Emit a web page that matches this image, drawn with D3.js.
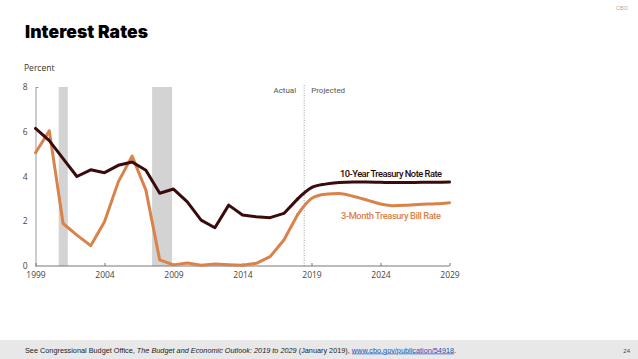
<!DOCTYPE html>
<html><head><meta charset="utf-8">
<script src="https://cdn.jsdelivr.net/npm/d3@7"></script>
<style>
body{margin:0;background:#fff;}
svg{display:block;}
</style></head>
<body>
<svg id="c" width="638" height="359"></svg>
<script>
const years = d3.range(1999, 2030);
const note10 = [6.15,5.6,4.8,4.0,4.3,4.17,4.5,4.65,4.28,3.25,3.44,2.87,2.05,1.71,2.72,2.28,2.2,2.16,2.35,3.0,3.5,3.66,3.73,3.75,3.75,3.74,3.73,3.73,3.74,3.74,3.75];
const bill3 = [5.06,6.04,1.9,1.38,0.91,1.98,3.76,4.91,3.39,0.27,0.05,0.13,0.03,0.09,0.06,0.03,0.12,0.42,1.16,2.3,3.02,3.21,3.24,3.12,2.95,2.77,2.69,2.72,2.76,2.78,2.83];
const recessions = [[2000.68, 2001.34], [2007.45, 2008.9]];
const splitYear = 2018.47;
const yTicks = [0,2,4,6,8];
const xTicks = [1999,2004,2009,2014,2019,2024,2029];

const svg = d3.select("#c");
const x = d3.scaleLinear().domain([1999, 2029]).range([35.5, 449.5]);
const y = d3.scaleLinear().domain([0, 8]).range([266, 87]);

// CBO top right
svg.append("text").attr("x",628).attr("y",10).attr("text-anchor","end")
  .attr("font-family","Liberation Sans, Arial").attr("font-size",5.5).attr("fill","#aaa").text("CBO");

// title
svg.append("text").attr("x",25).attr("y",38)
  .attr("font-family","Inter, Roboto, sans-serif").attr("font-weight",900)
  .attr("font-size",17.5).attr("fill","#000").attr("textLength",123).text("Interest Rates");

svg.append("text").attr("x",24).attr("y",71)
  .attr("font-family","Open Sans, sans-serif").attr("font-size",8.5).attr("fill","#333").text("Percent");

// recession bars
svg.selectAll("rect.rec").data(recessions).enter().append("rect")
  .attr("x", d=>x(d[0])).attr("width", d=>x(d[1])-x(d[0]))
  .attr("y", y(8)).attr("height", y(0)-y(8)).attr("fill","#d3d3d3");

// axes
const yAxis = svg.append("g").attr("transform","translate(35.5,0)")
  .call(d3.axisLeft(y).tickValues(yTicks).tickSize(0).tickPadding(8));
yAxis.select(".domain").attr("stroke","#999");
yAxis.selectAll("text").attr("font-family","Open Sans, sans-serif").attr("font-size",8.5).attr("fill","#444");
svg.append("line").attr("x1",35.5).attr("x2",38.5).attr("y1",y(8)+0.5).attr("y2",y(8)+0.5).attr("stroke","#999");

const xAxis = svg.append("g").attr("transform","translate(0,266)")
  .call(d3.axisBottom(x).tickValues(xTicks).tickFormat(d3.format("d")).tickSize(-3).tickPadding(6));
xAxis.select(".domain").attr("stroke","#777").attr("d","M35.5,0H449.5");
xAxis.selectAll(".tick line").attr("stroke","#777");
xAxis.selectAll("text").attr("font-family","Open Sans, sans-serif").attr("font-size",8.5).attr("fill","#444");

// actual / projected divider
svg.append("line").attr("x1",x(splitYear)).attr("x2",x(splitYear)).attr("y1",85).attr("y2",266)
  .attr("stroke","#888").attr("stroke-width",0.8).attr("stroke-dasharray","1,1.5");
svg.append("text").attr("x",x(splitYear)-8).attr("y",93).attr("text-anchor","end")
  .attr("font-family","Roboto, sans-serif").attr("font-size",8).attr("fill","#555").text("Actual");
svg.append("text").attr("x",x(splitYear)+7).attr("y",93)
  .attr("font-family","Roboto, sans-serif").attr("font-size",8).attr("fill","#555").text("Projected");

// lines
const lineL = d3.line().x(d=>x(d[0])).y(d=>y(d[1])).curve(d3.curveLinear);
const lineC = d3.line().x(d=>x(d[0])).y(d=>y(d[1])).curve(d3.curveMonotoneX);
function drawSeries(vals, color){
  const pts = years.map((yr,i)=>[yr, vals[i]]);
  const act = pts.filter(p=>p[0] <= 2018);
  const proj = pts.filter(p=>p[0] >= 2018);
  [[act,lineL],[proj,lineC]].forEach(([d,gen])=>{
    svg.append("path").attr("d", gen(d)).attr("fill","none").attr("stroke",color)
      .attr("stroke-width",3).attr("stroke-linejoin","round").attr("stroke-linecap","round");
  });
}
drawSeries(bill3, "#d9824a");
drawSeries(note10, "#3b0a0a");

svg.append("text").attr("x",340).attr("y",177)
  .attr("font-family","Roboto, sans-serif").attr("font-weight",500).attr("font-size",9.3).attr("fill","#2a0808")
  .attr("textLength",102).text("10-Year Treasury Note Rate");
svg.append("text").attr("x",341).attr("y",219)
  .attr("font-family","Roboto, sans-serif").attr("font-weight",500).attr("font-size",9.3).attr("fill","#d9824a")
  .attr("textLength",100).text("3-Month Treasury Bill Rate");

// footer
svg.append("rect").attr("x",0).attr("y",340).attr("width",638).attr("height",19).attr("fill","#e8e8e8");
const ft = svg.append("text").attr("x",25).attr("y",352.5)
  .attr("font-family","Liberation Sans, Arial").attr("font-size",7.3).attr("fill","#222");
ft.append("tspan").text("See Congressional Budget Office, ");
ft.append("tspan").attr("font-style","italic").text("The Budget and Economic Outlook: 2019 to 2029");
ft.append("tspan").text(" (January 2019), ");
ft.append("tspan").attr("fill","#1f4fb5").attr("text-decoration","underline").text("www.cbo.gov/publication/54918");
ft.append("tspan").text(".");
svg.append("text").attr("x",630).attr("y",352.5).attr("text-anchor","end")
  .attr("font-family","Liberation Sans, Arial").attr("font-size",6).attr("fill","#444").text("24");
</script>
</body></html>
